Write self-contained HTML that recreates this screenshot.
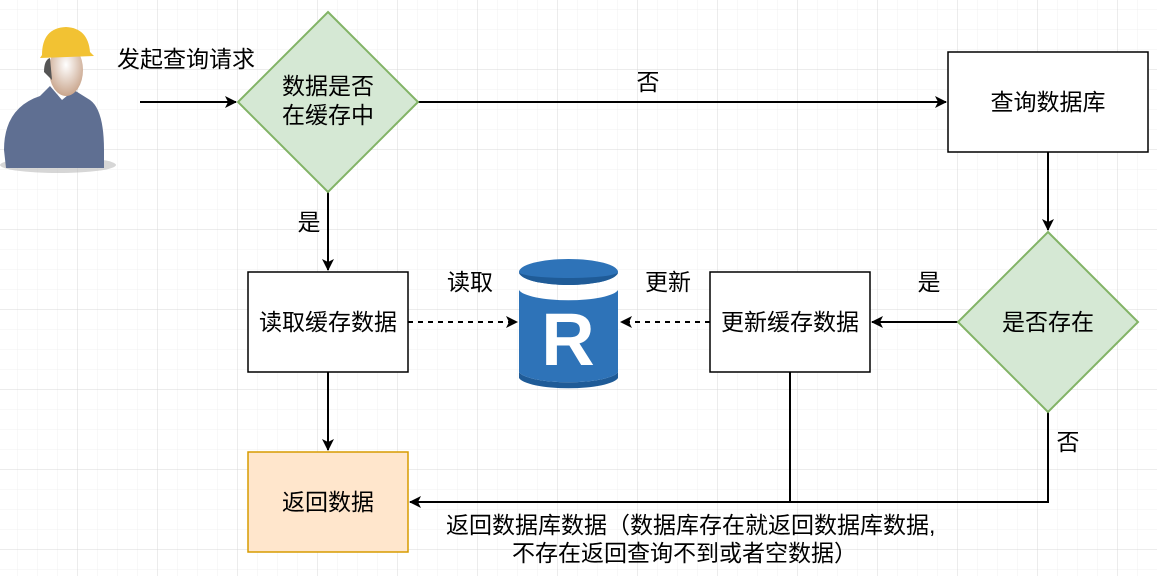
<!DOCTYPE html>
<html><head><meta charset="utf-8"><style>
body{margin:0;width:1157px;height:576px;overflow:hidden;background:#fff}
svg text{font-family:"Liberation Sans","Noto Sans CJK SC",sans-serif;font-size:23px;fill:#000}
</style></head><body>
<svg width="1157" height="576" xmlns="http://www.w3.org/2000/svg">
<defs>
<pattern id="mi" width="20" height="20" patternUnits="userSpaceOnUse" x="-2" y="-10"><path d="M20 0V20M0 20H20" stroke="#f0f0f0" stroke-width="1" fill="none"/></pattern>
<pattern id="ma" width="80" height="80" patternUnits="userSpaceOnUse" x="-2" y="-10"><path d="M80 0V80M0 80H80" stroke="#d8d8d8" stroke-width="1" fill="none"/></pattern>
<marker id="a" markerWidth="12" markerHeight="12" refX="11" refY="6" orient="auto" markerUnits="userSpaceOnUse"><path d="M0 0L12 6L0 12L3 6Z" fill="#000"/></marker>
<radialGradient id="face" cx="0.5" cy="0.4" r="0.6"><stop offset="0" stop-color="#fff"/><stop offset="1" stop-color="#c9a58c"/></radialGradient>
</defs>
<rect width="1157" height="576" fill="url(#mi)"/>
<rect width="1157" height="576" fill="url(#ma)"/>
<!-- person -->
<ellipse cx="58" cy="165" rx="58" ry="8" fill="#bbb" opacity="0.6"/>
<path d="M4 150Q4 108 40 96L50 86L62 100L74 90L90 100Q104 110 104 150L104 168L6 168Z" fill="#5f6f92"/>
<ellipse cx="66" cy="70" rx="17" ry="26" fill="url(#face)"/>
<path d="M44 72Q44 60 50 58L52 80Z" fill="#555"/>
<path d="M42 55Q42 28 66 27Q88 28 90 52L94 56L40 58Z" fill="#f2c233"/>
<!-- arrows -->
<g stroke="#000" stroke-width="2" fill="none">
<path d="M140 102H236" marker-end="url(#a)"/>
<path d="M418 102H946" marker-end="url(#a)"/>
<path d="M1048 152V230" marker-end="url(#a)"/>
<path d="M958 322H872" marker-end="url(#a)"/>
<path d="M710 322H621" stroke-dasharray="5 5" marker-end="url(#a)"/>
<path d="M408 322H517" stroke-dasharray="5 5" marker-end="url(#a)"/>
<path d="M328 192V270" marker-end="url(#a)"/>
<path d="M328 372V450" marker-end="url(#a)"/>
<path d="M1048 412V502H410" marker-end="url(#a)"/>
<path d="M790 372V502"/>
</g>
<!-- shapes -->
<path d="M328 12L418 102L328 192L238 102Z" fill="#d5e8d4" stroke="#82b366" stroke-width="2"/>
<path d="M1048 232L1138 322L1048 412L958 322Z" fill="#d5e8d4" stroke="#82b366" stroke-width="2"/>
<rect x="948" y="52" width="200" height="100" fill="#fff" stroke="#000" stroke-width="1.5"/>
<rect x="710" y="272" width="160" height="100" fill="#fff" stroke="#000" stroke-width="1.5"/>
<rect x="248" y="272" width="160" height="100" fill="#fff" stroke="#000" stroke-width="1.5"/>
<rect x="248" y="452" width="160" height="100" fill="#ffe6cc" stroke="#d79b00" stroke-width="1.5"/>
<!-- cylinder -->
<path d="M519 372A50 12 0 0 0 618 372V378A50 12 0 0 1 519 378Z" fill="#1f5b97"/>
<path d="M519 290V372A50 12 0 0 0 618 372V290A50 12 0 0 1 519 290Z" fill="#2e73b8"/>
<ellipse cx="568.5" cy="272" rx="49.5" ry="13" fill="#2e73b8"/>
<path d="M519 272A49.5 13 0 0 0 618 272A49.5 6 0 0 1 519 272Z" fill="#1f5b97"/>
<text x="568" y="365" text-anchor="middle" style="font-size:74px;font-weight:bold;fill:#fff">R</text>
<!-- labels -->
<text x="117" y="67">发起查询请求</text>
<text x="328" y="94" text-anchor="middle">数据是否</text>
<text x="328" y="123" text-anchor="middle">在缓存中</text>
<text x="648" y="90" text-anchor="middle">否</text>
<text x="1048" y="110" text-anchor="middle">查询数据库</text>
<text x="1048" y="330" text-anchor="middle">是否存在</text>
<text x="929" y="290" text-anchor="middle">是</text>
<text x="790" y="330" text-anchor="middle">更新缓存数据</text>
<text x="668" y="290" text-anchor="middle">更新</text>
<text x="470" y="290" text-anchor="middle">读取</text>
<text x="328" y="330" text-anchor="middle">读取缓存数据</text>
<text x="309" y="230" text-anchor="middle">是</text>
<text x="328" y="510" text-anchor="middle">返回数据</text>
<text x="1068" y="450" text-anchor="middle">否</text>
<text x="446" y="533">返回数据库数据（数据库存在就返回数据库数据,</text>
<text x="512" y="561">不存在返回查询不到或者空数据）</text>
</svg>
</body></html>
